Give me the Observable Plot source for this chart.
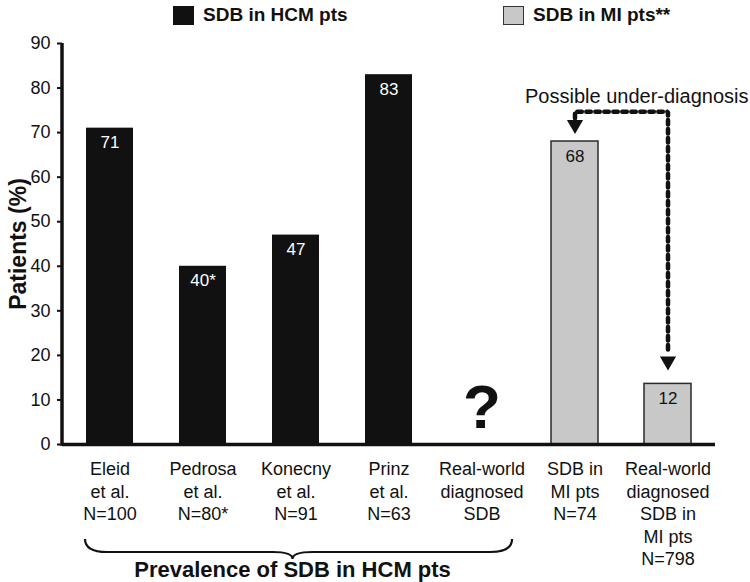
<!DOCTYPE html>
<html><head><meta charset="utf-8">
<script src="https://cdn.jsdelivr.net/npm/d3@7"></script>
<script src="https://cdn.jsdelivr.net/npm/@observablehq/plot@0.6"></script>
<style>
body{margin:0;background:#fff;font-family:"Liberation Sans",Arial,sans-serif;color:#111;}
#wrap{position:relative;width:750px;height:582px;overflow:hidden;}
#legend{position:relative;height:30px;}
.sw{position:absolute;top:6px;width:21px;height:19px;box-sizing:border-box;}
.lt{position:absolute;top:3px;font-weight:bold;font-size:19px;line-height:24px;white-space:nowrap;}
</style></head><body>
<div id="wrap"><div id="legend"></div><div id="chart"></div></div>
<script>
const categories = ["Eleid","Pedrosa","Konecny","Prinz","RW-HCM","MI","RW-MI"];
const categoryLabels = ["Eleid\net al.\nN=100","Pedrosa\net al.\nN=80*","Konecny\net al.\nN=91","Prinz\net al.\nN=63","Real-world\ndiagnosed\nSDB","SDB in\nMI pts\nN=74","Real-world\ndiagnosed\nSDB in\nMI pts\nN=798"];
const groups = ["HCM","HCM","HCM","HCM","HCM","MI","MI"];
const values = [71,40,47,83,null,68,13.6];
const valueLabels = ["71","40*","47","83","","68","12"];
const legendLabels = ["SDB in HCM pts","SDB in MI pts**"];
const groupColors = {HCM:"#111111", MI:"#c8c8c8"};
const yTicks = [0,10,20,30,40,50,60,70,80,90];
const yLabel = "Patients (%)";
const groupTitle = "Prevalence of SDB in HCM pts";
const annotation = "Possible under-diagnosis";
const unknownMark = "?";
// annotation arrow path (category, value)
const arrowCats = ["MI","MI","RW-MI","RW-MI"];
const arrowVals = [73.2,74.7,74.7,20.4];
const arrowHeadCats = ["MI","RW-MI"];
const arrowHeadVals = [71.8,18.7];

const rows = categories.map((c,i)=>({cat:c, v:values[i], g:groups[i], lab:valueLabels[i]}));
const labelMap = Object.fromEntries(categories.map((c,i)=>[c,categoryLabels[i]]));
const arrowPath = arrowCats.map((c,i)=>({cat:c, v:arrowVals[i]}));
const arrowHeads = arrowHeadCats.map((c,i)=>({cat:c, v:arrowHeadVals[i]}));

// legend
const leg = document.getElementById("legend");
[[173,"HCM",legendLabels[0]],[503,"MI",legendLabels[1]]].forEach(([x,g,t])=>{
  const s=document.createElement("div"); s.className="sw"; s.style.left=x+"px";
  s.style.background=groupColors[g]; if(g==="MI") s.style.border="1.5px solid #333";
  leg.appendChild(s);
  const l=document.createElement("div"); l.className="lt"; l.style.left=(x+30)+"px"; l.textContent=t;
  leg.appendChild(l);
});

const font = "Liberation Sans, Arial, sans-serif";
const plot = Plot.plot({
  width: 750, height: 552,
  marginTop: 13, marginBottom: 138, marginLeft: 62, marginRight: 35,
  style: {fontFamily: font, color: "#111", background: "#fff", overflow: "visible"},
  x: {domain: categories, paddingInner: 0.5, paddingOuter: 0.25, axis: null},
  y: {domain: [0, 90], axis: null},
  marks: [
    Plot.barY(rows.filter(d=>d.v!=null && d.g==="HCM"), {x:"cat", y:"v", fill: groupColors.HCM}),
    Plot.barY(rows.filter(d=>d.v!=null && d.g==="MI"), {x:"cat", y:"v", fill: groupColors.MI, stroke:"#2a2a2a", strokeWidth:1.5}),
    Plot.text(rows.filter(d=>d.v!=null), {x:"cat", y:"v", text:"lab", lineAnchor:"top", dy:8, fontSize:17,
      fill: d => d.g==="HCM" ? "white" : "#111"}),
    Plot.text([{cat:"RW-HCM", v:0}], {x:"cat", y:"v", text: () => unknownMark, lineAnchor:"bottom", dy:-17, fontSize:62, fontWeight:"bold", fill:"#111"}),
    Plot.axisY({ticks: yTicks, tickSize: 5, tickPadding: 7, fontSize: 18, label: null, strokeWidth: 2, fill:"#111"}),
    Plot.axisX({tickSize: 0, tickPadding: 15, fontSize: 18, lineHeight: 1.25, label: null, tickFormat: k => labelMap[k], fill:"#111"}),
    Plot.ruleY([0], {stroke:"#111", strokeWidth: 3.5}),
    Plot.text([yLabel], {frameAnchor:"left", rotate:-90, dx:-44, textAnchor:"middle", lineAnchor:"middle", fontSize:23, fontWeight:"bold", fill:"#111"}),
    Plot.line(arrowPath, {x:"cat", y:"v", stroke:"#111", strokeWidth:4.5, strokeDasharray:"4.5,4.5", strokeLinejoin:"miter"}),
    Plot.dot(arrowHeads, {x:"cat", y:"v", symbol:"triangle", rotate:180, r:6, fill:"#111", stroke:"none"}),
    Plot.text([annotation], {frameAnchor:"top-right", dx:33, dy:45, textAnchor:"end", lineAnchor:"top", fontSize:20, fill:"#111"})
  ]
});
document.getElementById("chart").appendChild(plot);

// y axis line and brace drawn from the scales
const sx = plot.scale("x"), sy = plot.scale("y");
const svg = d3.select(plot.tagName.toLowerCase()==="svg" ? plot : plot.querySelector("svg"));
const xLeft = sx.range[0], yTop = sy.apply(90), yBot = sy.apply(0);
svg.append("line").attr("x1", xLeft).attr("x2", xLeft).attr("y1", yTop).attr("y2", yBot+1.7)
  .attr("stroke","#111").attr("stroke-width",3.5);

const L = sx.apply("Eleid") - 1;
const R = sx.apply("RW-HCM") + sx.bandwidth*1.15;
const C = (L + R)/2 - 6;
const yA = yBot + 95, yM = yBot + 108, yT = yBot + 115;
svg.append("path")
  .attr("d", `M${L},${yA} Q${L},${yM} ${L+22},${yM} H${C-20} Q${C},${yM} ${C},${yT} Q${C},${yM} ${C+20},${yM} H${R-22} Q${R},${yM} ${R},${yA}`)
  .attr("fill","none").attr("stroke","#111").attr("stroke-width",2.2);
svg.append("text").attr("x", C).attr("y", yBot + 133).attr("text-anchor","middle")
  .attr("font-size",22).attr("font-weight","bold").attr("fill","#111").attr("font-family",font)
  .text(groupTitle);
</script>
</body></html>
